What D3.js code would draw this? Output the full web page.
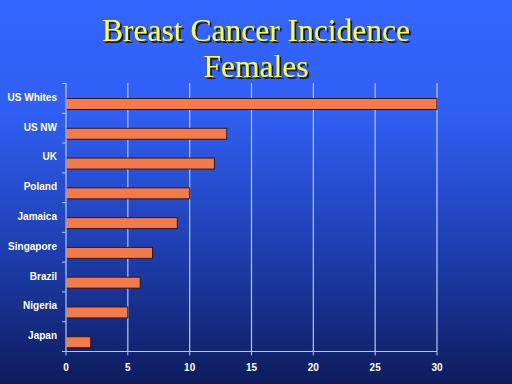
<!DOCTYPE html>
<html><head><meta charset="utf-8">
<script src="https://cdn.jsdelivr.net/npm/d3@7"></script>
<style>html,body{margin:0;padding:0;overflow:hidden;background:#1a3aa0}</style>
</head><body>
<script>
const categories = ["US Whites","US NW","UK","Poland","Jamaica","Singapore","Brazil","Nigeria","Japan"];
const values = [30,13,12,10,9,7,6,5,2];
const xTicks = [0,5,10,15,20,25,30];
const titleLines = ["Breast Cancer Incidence","Females"];

const W=512,H=384;
const svg=d3.select("body").append("svg").attr("width",W).attr("height",H);
const defs=svg.append("defs");
const g=defs.append("linearGradient").attr("id","bg").attr("x1",0).attr("y1",0).attr("x2",0).attr("y2",1);
g.append("stop").attr("offset","0%").attr("stop-color","#3366ff");
g.append("stop").attr("offset","30%").attr("stop-color","#2f5ef2");
g.append("stop").attr("offset","65%").attr("stop-color","#1e3fb0");
g.append("stop").attr("offset","100%").attr("stop-color","#0e1c5c");
const f=defs.append("filter").attr("id","sh").attr("x","-10%").attr("y","-20%").attr("width","130%").attr("height","150%");
f.append("feDropShadow").attr("dx",2).attr("dy",2).attr("stdDeviation",0.4).attr("flood-color","#15153a").attr("flood-opacity",1);
svg.append("rect").attr("width",W).attr("height",H).attr("fill","url(#bg)");

// title
const ty=[40.5,77];
titleLines.forEach((t,i)=>{
  svg.append("text").attr("x",256).attr("y",ty[i]).attr("text-anchor","middle")
    .attr("font-family","Liberation Serif, Times New Roman, serif").attr("font-size",31.5)
    .attr("fill","#ffff33").attr("filter","url(#sh)").text(t);
});

const x=d3.scaleLinear().domain([0,30]).range([66,437]);
const y=d3.scaleBand().domain(categories).range([83.5,351.5]);

// gridlines
svg.append("g").selectAll("line").data(xTicks.slice(1)).join("line")
  .attr("x1",d=>x(d)).attr("x2",d=>x(d)).attr("y1",83).attr("y2",351.5)
  .attr("stroke","#b8c8ff").attr("stroke-width",1.2);

// bars
svg.append("g").selectAll("rect").data(values).join("rect")
  .attr("x",x(0)).attr("y",(d,i)=>y(categories[i])+15)
  .attr("width",d=>x(d)-x(0)).attr("height",11)
  .attr("fill","#f47a48").attr("stroke","#2a1a20").attr("stroke-width",1);

// y axis
const ya=svg.append("g").attr("transform",`translate(${x(0)},0)`);
ya.append("line").attr("x1",0).attr("x2",0).attr("y1",83).attr("y2",351.5).attr("stroke","#b8c8ff").attr("stroke-width",1.2);
const yt=[...categories.map(c=>y(c)),351.5];
ya.selectAll("line.t").data(yt).join("line").attr("class","t")
  .attr("x1",-4).attr("x2",0).attr("y1",d=>d).attr("y2",d=>d).attr("stroke","#b8c8ff");
ya.selectAll("text").data(categories).join("text")
  .attr("x",-9).attr("y",d=>y(d)+y.bandwidth()/2-1).attr("dy","0.35em")
  .attr("text-anchor","end").attr("font-family","Liberation Sans, Arial, sans-serif")
  .attr("font-weight","bold").attr("font-size",10).attr("fill","#ffffff").text(d=>d);

// x axis
const xa=svg.append("g").attr("transform","translate(0,351.5)");
xa.append("line").attr("x1",62).attr("x2",x(30)).attr("y1",0).attr("y2",0).attr("stroke","#b8c8ff").attr("stroke-width",1.2);
xa.selectAll("line.t").data(xTicks).join("line").attr("class","t")
  .attr("x1",d=>x(d)).attr("x2",d=>x(d)).attr("y1",0).attr("y2",4).attr("stroke","#b8c8ff");
xa.selectAll("text").data(xTicks).join("text")
  .attr("x",d=>x(d)).attr("y",15.5).attr("dy","0.35em").attr("text-anchor","middle")
  .attr("font-family","Liberation Sans, Arial, sans-serif").attr("font-weight","bold")
  .attr("font-size",10).attr("fill","#ffffff").text(d=>d);
</script>
</body></html>
